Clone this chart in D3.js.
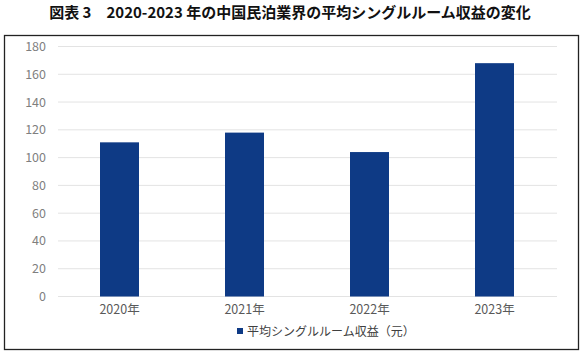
<!DOCTYPE html>
<html><head><meta charset="utf-8">
<script src="https://cdn.jsdelivr.net/npm/d3@7"></script>
<style>body{margin:0;background:#fff}svg{display:block}</style>
</head><body>
<svg id="c" width="585" height="355"></svg>
<script>
const categories = ["2020年","2021年","2022年","2023年"];
const values = [111, 118, 104, 168];
const yTicks = [0,20,40,60,80,100,120,140,160,180];
const title = "図表 3　2020-2023 年の中国民泊業界の平均シングルルーム収益の変化";
const seriesName = "平均シングルルーム収益（元）";

const svg = d3.select("#c");
const font = "'Noto Sans CJK JP','Noto Sans',sans-serif";
svg.append("text").attr("x",290).attr("y",18).attr("text-anchor","middle")
  .attr("font-family",font).attr("font-weight","bold").attr("font-size",15).attr("fill","#111").text(title);

svg.append("rect").attr("x",4.5).attr("y",35.5).attr("width",574).attr("height",314)
  .attr("fill","none").attr("stroke","#222").attr("stroke-width",1.3);

const x = d3.scaleBand().domain(categories).range([57,557]).paddingInner(0.688).paddingOuter(0.344);
const y = d3.scaleLinear().domain([0,180]).range([296.5,46.5]);

const g = svg.append("g");
g.selectAll("line.grid").data(yTicks).join("line").attr("class","grid")
  .attr("x1",58).attr("x2",557).attr("y1",d=>y(d)).attr("y2",d=>y(d))
  .attr("stroke","#e3e3e3").attr("stroke-width",1);

const yAxis = d3.axisLeft(y).tickValues(yTicks).tickSize(0).tickPadding(0);
const ya = svg.append("g").attr("transform","translate(46,0)").call(yAxis);
ya.select(".domain").remove();
ya.selectAll("text").attr("font-family",font).attr("font-size",12.5).attr("fill","#7f7f7f");

g.selectAll("rect.bar").data(values).join("rect").attr("class","bar")
  .attr("x",(d,i)=>x(categories[i])).attr("width",x.bandwidth())
  .attr("y",d=>y(d)).attr("height",d=>y(0)-y(d)).attr("fill","#0e3a85");

const xAxis = d3.axisBottom(x).tickSize(0).tickPadding(0);
const xa = svg.append("g").attr("transform","translate(0,305)").call(xAxis);
xa.select(".domain").remove();
xa.selectAll("text").attr("font-family",font).attr("font-size",12.5).attr("fill","#595959");

svg.append("rect").attr("x",237).attr("y",328).attr("width",6).attr("height",6).attr("fill","#0e3a85");
svg.append("text").attr("x",247).attr("y",335.5).attr("font-family",font).attr("font-size",12)
  .attr("fill","#404040").text(seriesName);
</script>
</body></html>
